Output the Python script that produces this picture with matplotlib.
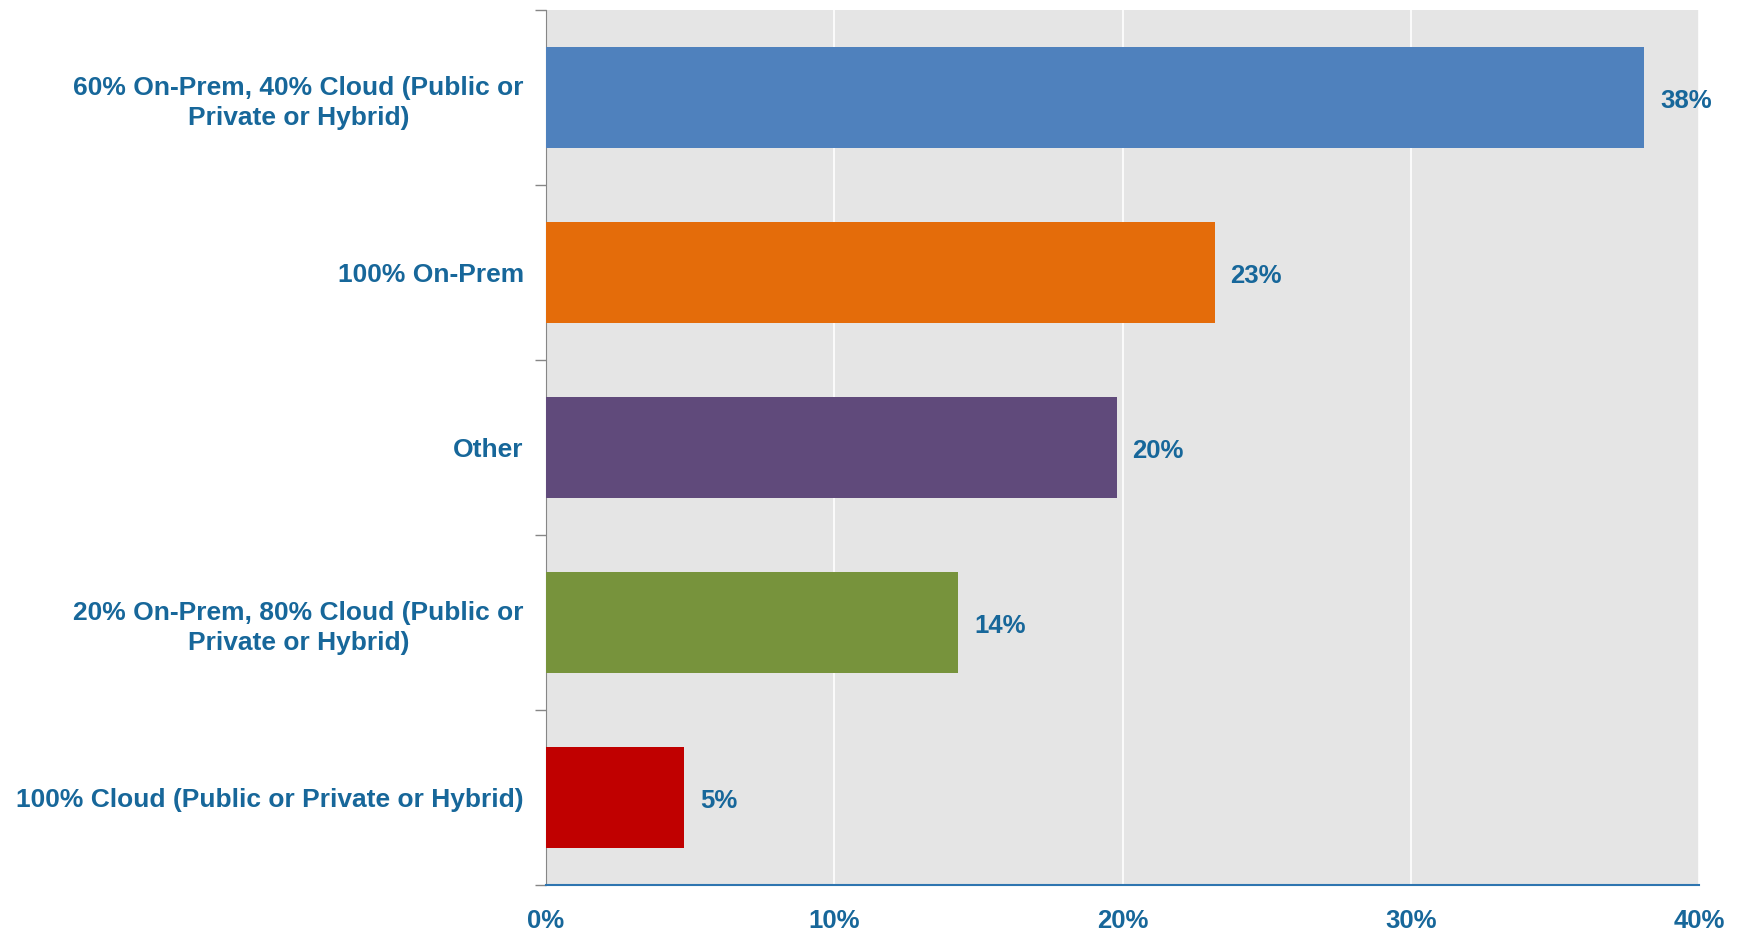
import numpy as np
import matplotlib
matplotlib.use('Agg')
import matplotlib.pyplot as plt
from matplotlib.ticker import FixedLocator

categories = ['60% On-Prem, 40% Cloud (Public or\nPrivate or Hybrid)',
              '100% On-Prem',
              'Other',
              '20% On-Prem, 80% Cloud (Public or\nPrivate or Hybrid)',
              '100% Cloud (Public or Private or Hybrid)']
values = [38.1, 23.2, 19.8, 14.3, 4.8]
value_labels = ['38%', '23%', '20%', '14%', '5%']
colors = ['#4F81BD', '#E46C0A', '#604A7B', '#77933C', '#C00000']
xticks = [0, 10, 20, 30, 40]

text_color = '#17679A'
plt.rcParams['font.family'] = ['Liberation Sans', 'DejaVu Sans']

fig = plt.figure(figsize=(17.4, 9.33), dpi=100)
ax = fig.add_axes([546 / 1740, 1 - 885 / 933, (1699 - 546) / 1740, (885 - 10) / 933])
ax.set_facecolor('#E5E5E5')

y = np.arange(len(categories))
ax.barh(y, values, height=0.58, color=colors, zorder=3)

for yi, v, lab in zip(y, values, value_labels):
    ax.text(v + 0.55, yi + 0.02, lab, va='center', ha='left', fontsize=18.5,
            fontweight='bold', color=text_color, zorder=4, clip_on=False)

ax.set_xlim(0, 40)
ax.set_ylim(len(categories) - 0.5, -0.5)
ax.set_xticks(xticks)
ax.set_xticklabels(['%d%%' % t for t in xticks], fontsize=18.5, fontweight='bold',
                   color=text_color)
ax.tick_params(axis='x', length=0, pad=17)
ax.xaxis.grid(True, color='white', linewidth=1.2, zorder=1)

ax.set_yticks(y)
ax.set_yticklabels(categories, fontsize=19, fontweight='bold', color=text_color,
                   ha='right', multialignment='center', linespacing=1.3)
ax.tick_params(axis='y', which='major', length=0, pad=16)
ax.yaxis.set_minor_locator(FixedLocator(np.arange(-0.5, len(categories), 1)))
ax.tick_params(axis='y', which='minor', length=8, width=1, color='#868686')

for s in ['top', 'right']:
    ax.spines[s].set_visible(False)
ax.spines['left'].set_color('#868686')
ax.spines['bottom'].set_color('#2E75B0')
ax.spines['bottom'].set_linewidth(1.5)

fig.savefig('out.png', dpi=100)
